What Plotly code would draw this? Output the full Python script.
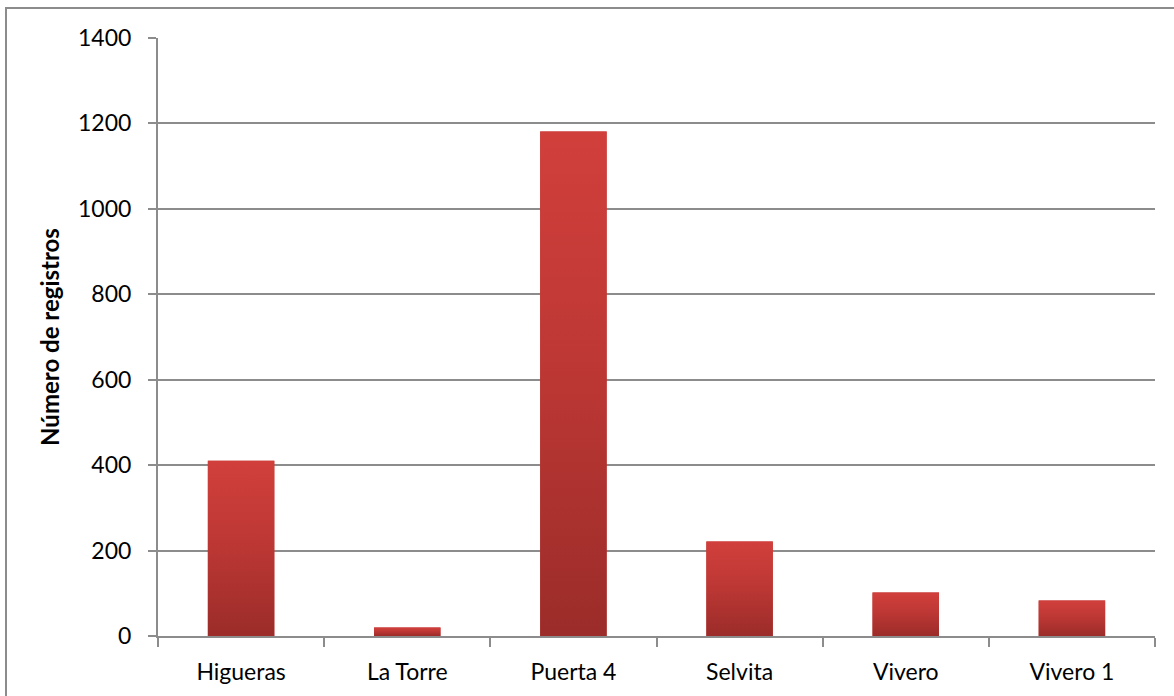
import plotly.graph_objects as go

# Registros por sitio
sitios = ["Higueras", "La Torre", "Puerta 4", "Selvita", "Vivero", "Vivero 1"]
registros = [410, 20, 1181, 221, 102, 83]
y_ticks = [0, 200, 400, 600, 800, 1000, 1200, 1400]

BAR_WIDTH = 0.4
FONT = "Lato"
GRID = "#8C8C8C"
TOP_RED = "#D13F3B"
MID_RED = "#BE3835"
LOW_RED = "#9B2C29"

positions = list(range(len(sitios)))

fig = go.Figure()

# Base bars (solid colour)
fig.add_trace(go.Bar(
    x=positions, y=registros, width=BAR_WIDTH,
    marker=dict(color=MID_RED, line=dict(width=0)),
    customdata=sitios,
    hovertemplate="%{customdata}: %{y}<extra></extra>",
))

# Vertical gradient overlay, one filled outline per bar
for pos, val in zip(positions, registros):
    x0, x1 = pos - BAR_WIDTH / 2, pos + BAR_WIDTH / 2
    fig.add_trace(go.Scatter(
        x=[x0, x1, x1, x0, x0], y=[0, 0, val, val, 0],
        mode="lines", fill="toself", line=dict(width=0),
        fillgradient=dict(type="vertical",
                          colorscale=[[0, LOW_RED], [0.55, MID_RED], [1, TOP_RED]]),
        hoverinfo="skip", showlegend=False,
    ))

fig.update_layout(
    width=1174, height=696,
    margin=dict(l=158, r=19, t=38, b=60),
    paper_bgcolor="white", plot_bgcolor="white",
    showlegend=False,
    font=dict(family=FONT, size=23, color="#000000"),
    xaxis=dict(
        range=[-0.5, len(sitios) - 0.5],
        tickmode="array", tickvals=positions, ticktext=sitios,
        ticks="", showgrid=False, zeroline=False,
        showline=True, linecolor=GRID, linewidth=2,
        tickfont=dict(family=FONT, size=23),
        ticklabelstandoff=14,
        minor=dict(tickmode="array",
                   tickvals=[p - 0.5 for p in positions] + [len(sitios) - 0.5],
                   ticks="outside", ticklen=9, tickwidth=2, tickcolor=GRID,
                   showgrid=False),
    ),
    yaxis=dict(
        range=[0, 1400], tickmode="array", tickvals=y_ticks,
        ticks="outside", ticklen=8, tickwidth=2, tickcolor=GRID,
        showgrid=True, gridcolor=GRID, gridwidth=2,
        zeroline=False, showline=True, linecolor=GRID, linewidth=2,
        tickfont=dict(family=FONT, size=23),
        ticklabelstandoff=12,
        title=dict(text="<b>Número de registros</b>", standoff=12,
                   font=dict(family=FONT, size=24)),
    ),
    shapes=[dict(type="rect", xref="paper", yref="paper",
                 x0=-152 / 997, x1=1.05, y0=-0.2, y1=(598 + 30) / 598,
                 line=dict(color=GRID, width=2), fillcolor="rgba(0,0,0,0)",
                 layer="below")],
)

fig.write_html("out.html")
